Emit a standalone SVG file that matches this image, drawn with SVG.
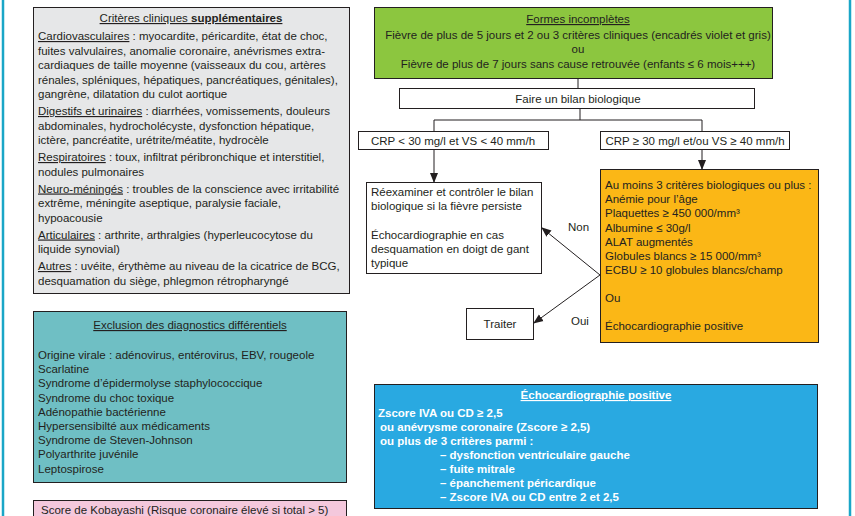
<svg xmlns="http://www.w3.org/2000/svg" width="855" height="516" viewBox="0 0 855 516">
<style>
text{font-family:"Liberation Sans",Arial,sans-serif;font-size:11.5px;fill:#231f20}
.box{stroke:#231f20;stroke-width:1}
.u{text-decoration:underline}
.b{font-weight:bold}
.w{fill:#ffffff;font-weight:bold}
.c{text-anchor:middle}
.ln{stroke:#231f20;stroke-width:1;fill:none}
</style>
<defs>
<marker id="ah" markerWidth="10" markerHeight="10" refX="9" refY="5" orient="auto" markerUnits="userSpaceOnUse">
<path d="M0,1 L10,5 L0,9 Z" fill="#231f20"/>
</marker>
</defs>
<rect x="0" y="0" width="855" height="516" fill="#ffffff"/>
<line x1="3" y1="0" x2="3" y2="516" stroke="#1aa6c7" stroke-width="2.5"/>
<line x1="850" y1="0" x2="850" y2="516" stroke="#1aa6c7" stroke-width="2.5"/>

<g id="criteres">
<rect class="box" x="33.5" y="7.5" width="316" height="286" fill="#e6e7e8"/>
<text class="c" x="191" y="22"><tspan class="u">Critères cliniques </tspan><tspan class="u b">supplémentaires</tspan></text>
<text x="38" y="40"><tspan class="u">Cardiovasculaires</tspan> : myocardite, péricardite, état de choc,</text>
<text x="38" y="54.5">fuites valvulaires, anomalie coronaire, anévrismes extra-</text>
<text x="38" y="69">cardiaques de taille moyenne (vaisseaux du cou, artères</text>
<text x="38" y="83.5">rénales, spléniques, hépatiques, pancréatiques, génitales),</text>
<text x="38" y="98">gangrène, dilatation du culot aortique</text>
<text x="38" y="115"><tspan class="u">Digestifs et urinaires</tspan> : diarrhées, vomissements, douleurs</text>
<text x="38" y="129.5">abdominales, hydrocholécyste, dysfonction hépatique,</text>
<text x="38" y="144">ictère, pancréatite, urétrite/méatite, hydrocèle</text>
<text x="38" y="161"><tspan class="u">Respiratoires</tspan> : toux, infiltrat péribronchique et interstitiel,</text>
<text x="38" y="175.5">nodules pulmonaires</text>
<text x="38" y="192.5"><tspan class="u">Neuro-méningés</tspan> : troubles de la conscience avec irritabilité</text>
<text x="38" y="207">extrême, méningite aseptique, paralysie faciale,</text>
<text x="38" y="221.5">hypoacousie</text>
<text x="38" y="238.5"><tspan class="u">Articulaires</tspan> : arthrite, arthralgies (hyperleucocytose du</text>
<text x="38" y="253">liquide synovial)</text>
<text x="38" y="270"><tspan class="u">Autres</tspan> : uvéite, érythème au niveau de la cicatrice de BCG,</text>
<text x="38" y="284.5">desquamation du siège, phlegmon rétropharyngé</text>
</g>

<g id="exclusion">
<rect class="box" x="33.5" y="311.5" width="313" height="171" fill="#6fbfc4"/>
<text class="c u" x="190" y="329">Exclusion des diagnostics différentiels</text>
<text x="38" y="359">Origine virale : adénovirus, entérovirus, EBV, rougeole</text>
<text x="38" y="373.2">Scarlatine</text>
<text x="38" y="387.4">Syndrome d’épidermolyse staphylococcique</text>
<text x="38" y="401.6">Syndrome du choc toxique</text>
<text x="38" y="415.8">Adénopathie bactérienne</text>
<text x="38" y="430">Hypersensibilté aux médicaments</text>
<text x="38" y="444.2">Syndrome de Steven-Johnson</text>
<text x="38" y="458.4">Polyarthrite juvénile</text>
<text x="38" y="472.6">Leptospirose</text>
</g>

<g id="kobayashi">
<rect class="box" x="33.5" y="500.5" width="313" height="30" fill="#f4c8dc"/>
<text x="41" y="514">Score de Kobayashi (Risque coronaire élevé si total &gt; 5)</text>
</g>

<g id="formes">
<rect class="box" x="374.5" y="7.5" width="398" height="71" fill="#8cc63f"/>
<text class="c u" x="578" y="23">Formes incomplètes</text>
<text class="c" x="578" y="39">Fièvre de plus de 5 jours et 2 ou 3 critères cliniques (encadrés violet et gris)</text>
<text class="c" x="578" y="53">ou</text>
<text class="c" x="578" y="68">Fièvre de plus de 7 jours sans cause retrouvée (enfants ≤ 6 mois+++)</text>
</g>

<g id="bilan">
<rect class="box" x="399.5" y="88.5" width="355" height="20" fill="#ffffff"/>
<text class="c" x="578" y="103">Faire un bilan biologique</text>
</g>

<g id="crp-bas">
<rect class="box" x="358.5" y="131.5" width="190" height="18" fill="#ffffff"/>
<text class="c" x="453" y="144.5">CRP &lt; 30 mg/l et VS &lt; 40 mm/h</text>
</g>

<g id="crp-haut">
<rect class="box" x="600.5" y="131.5" width="189" height="18" fill="#ffffff"/>
<text class="c" x="695" y="144.5">CRP ≥ 30 mg/l et/ou VS ≥ 40 mm/h</text>
</g>

<g id="reexaminer">
<rect class="box" x="366.5" y="182.5" width="175" height="91" fill="#ffffff"/>
<text x="371" y="196">Réexaminer et contrôler le bilan</text>
<text x="371" y="210">biologique si la fièvre persiste</text>
<text x="371" y="239">Échocardiographie en cas</text>
<text x="371" y="253">desquamation en doigt de gant</text>
<text x="371" y="267">typique</text>
</g>

<g id="criteres-bio">
<rect class="box" x="600.5" y="169.5" width="218" height="173" fill="#fbb716"/>
<text x="605" y="189">Au moins 3 critères biologiques ou plus :</text>
<text x="605" y="203">Anémie pour l’âge</text>
<text x="605" y="217">Plaquettes ≥ 450 000/mm³</text>
<text x="605" y="231.5">Albumine ≤ 30g/l</text>
<text x="605" y="245.5">ALAT augmentés</text>
<text x="605" y="260">Globules blancs ≥ 15 000/mm³</text>
<text x="605" y="274">ECBU ≥ 10 globules blancs/champ</text>
<text x="605" y="302">Ou</text>
<text x="605" y="330">Échocardiographie positive</text>
</g>

<g id="traiter">
<rect class="box" x="466.5" y="308.5" width="67" height="31" fill="#ffffff"/>
<text class="c" x="500" y="328">Traiter</text>
</g>

<g id="echo-positive">
<rect class="box" x="374.5" y="384.5" width="443" height="124" fill="#29a9e1"/>
<text class="c w u" x="596" y="399">Échocardiographie positive</text>
<text class="w" x="378" y="417">Zscore IVA ou CD ≥ 2,5</text>
<text class="w" x="380" y="431">ou anévrysme coronaire (Zscore ≥ 2,5)</text>
<text class="w" x="380" y="445">ou plus de 3 critères parmi :</text>
<text class="w" x="440" y="459">– dysfonction ventriculaire gauche</text>
<text class="w" x="440" y="473">– fuite mitrale</text>
<text class="w" x="440" y="487">– épanchement péricardique</text>
<text class="w" x="440" y="501">– Zscore IVA ou CD entre 2 et 2,5</text>
</g>

<g id="connecteurs">
<line class="ln" x1="578" y1="79" x2="578" y2="88"/>
<line class="ln" x1="580" y1="109" x2="580" y2="120"/>
<line class="ln" x1="434" y1="120" x2="702" y2="120"/>
<line class="ln" x1="434" y1="120" x2="434" y2="131"/>
<line class="ln" x1="702" y1="120" x2="702" y2="131"/>
<line class="ln" x1="434" y1="150" x2="434" y2="182" marker-end="url(#ah)"/>
<line class="ln" x1="702" y1="150" x2="702" y2="169" marker-end="url(#ah)"/>
<line class="ln" x1="600" y1="275" x2="542" y2="228" marker-end="url(#ah)"/>
<line class="ln" x1="600" y1="275" x2="534" y2="323" marker-end="url(#ah)"/>
<text x="568" y="231">Non</text>
<text x="571" y="325">Oui</text>
</g>
</svg>
